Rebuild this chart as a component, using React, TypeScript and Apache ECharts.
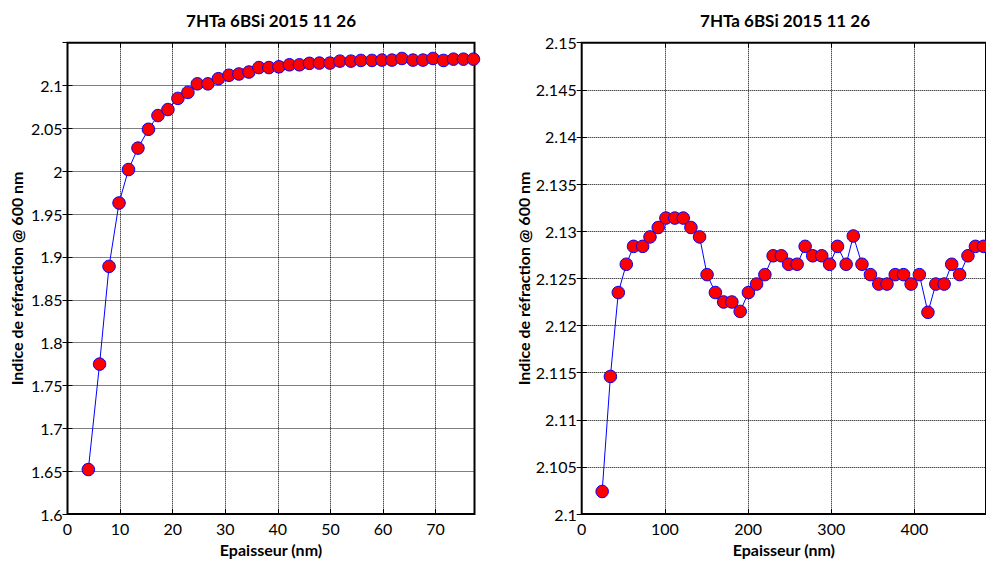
import React, { useEffect, useRef } from "react";
import * as echarts from "echarts";

const TITLE = "7HTa 6BSi 2015 11 26";
const X_NAME = "Epaisseur (nm)";
const Y_NAME = "Indice de réfraction @ 600 nm";

const leftX = [3.96, 6.1, 7.9, 9.8, 11.6, 13.4, 15.4, 17.2, 19.1, 21.0, 22.9, 24.7, 26.7, 28.7, 30.7, 32.6, 34.5, 36.4, 38.3, 40.2, 42.2, 44.1, 46.0, 47.9, 49.9, 51.8, 53.9, 55.8, 57.9, 59.8, 61.7, 63.6, 65.7, 67.6, 69.5, 71.5, 73.4, 75.3, 77.2];
const leftY = [1.652, 1.775, 1.889, 1.963, 2.002, 2.027, 2.049, 2.065, 2.072, 2.085, 2.092, 2.102, 2.102, 2.108, 2.112, 2.1135, 2.1158, 2.121, 2.121, 2.1219, 2.1242, 2.1242, 2.1259, 2.1262, 2.1262, 2.1285, 2.1285, 2.1293, 2.1293, 2.1297, 2.1297, 2.1316, 2.1297, 2.1297, 2.1316, 2.1293, 2.1308, 2.1308, 2.1308];

const rightX = [24.6, 34.5, 44.0, 53.6, 62.3, 73.3, 82.1, 92.0, 101.2, 111.9, 122.1, 131.3, 141.7, 150.7, 160.7, 170.6, 180.5, 190.5, 200.4, 210.2, 220.2, 230.1, 240.0, 248.8, 259.0, 268.6, 277.7, 288.5, 298.0, 307.5, 317.9, 326.5, 336.9, 347.1, 357.1, 367.0, 376.9, 386.9, 396.0, 405.9, 416.2, 425.7, 435.7, 444.8, 454.3, 464.3, 473.3, 483.0];
const rightY = [2.1024, 2.1146, 2.1235, 2.1265, 2.1284, 2.1284, 2.1294, 2.1304, 2.1314, 2.1314, 2.1314, 2.1304, 2.1294, 2.1254, 2.1235, 2.1225, 2.1225, 2.1215, 2.1235, 2.1244, 2.1254, 2.1274, 2.1274, 2.1265, 2.1265, 2.1284, 2.1274, 2.1274, 2.1265, 2.1284, 2.1265, 2.1295, 2.1265, 2.1254, 2.1244, 2.1244, 2.1254, 2.1254, 2.1244, 2.1254, 2.1214, 2.1244, 2.1244, 2.1265, 2.1254, 2.1274, 2.1284, 2.1284];

const leftXTicks = { min: 0, max: 77.4, interval: 10 };
const leftYTicks = { min: 1.6, max: 2.15, interval: 0.05 };
const rightXTicks = { min: 0, max: 486, interval: 100 };
const rightYTicks = { min: 2.1, max: 2.15, interval: 0.005 };

const FONT = "Lato, 'Open Sans', sans-serif";

function xAxes(grid: number, t: any, nameGap: number) {
  const common = {
    type: "value",
    gridIndex: grid,
    min: t.min,
    max: t.max,
    interval: t.interval,
    axisLine: { show: false },
    axisTick: { show: true, inside: true, length: 5, lineStyle: { color: "#000", width: 1 } },
  };
  return [
    {
      ...common,
      position: "bottom",
      name: X_NAME,
      nameLocation: "middle",
      nameGap,
      nameTextStyle: { fontFamily: FONT, fontWeight: "bold", fontSize: 16, color: "#000" },
      axisLabel: { show: true, fontFamily: FONT, fontSize: 16, color: "#000", margin: 6, showMaxLabel: false },
      splitLine: { show: true, lineStyle: { color: "#000", type: [1, 1], width: 1 } },
    },
    {
      ...common,
      position: "top",
      axisLabel: { show: false },
      splitLine: { show: false },
    },
  ];
}

function yAxes(grid: number, t: any, nameGap: number, showMax: boolean) {
  const common = {
    type: "value",
    gridIndex: grid,
    min: t.min,
    max: t.max,
    interval: t.interval,
    axisLine: { show: false },
    axisTick: { show: true, inside: true, length: 5, lineStyle: { color: "#000", width: 1 } },
  };
  return [
    {
      ...common,
      position: "left",
      name: Y_NAME,
      nameLocation: "middle",
      nameGap,
      nameTextStyle: { fontFamily: FONT, fontWeight: "bold", fontSize: 16, color: "#000" },
      axisLabel: { show: true, fontFamily: FONT, fontSize: 16, color: "#000", margin: 5, showMaxLabel: showMax },
      splitLine: { show: true, lineStyle: { color: "#000", type: [1, 1], width: 1 } },
    },
    {
      ...common,
      position: "right",
      axisLabel: { show: false },
      splitLine: { show: false },
    },
  ];
}

function makeSeries(xs: number[], ys: number[], axisIdx: number) {
  return {
    type: "line",
    xAxisIndex: axisIdx,
    yAxisIndex: axisIdx,
    data: xs.map((x, i) => [x, ys[i]]),
    symbol: "circle",
    symbolSize: 12.5,
    showSymbol: true,
    lineStyle: { color: "#0000ff", width: 1 },
    itemStyle: { color: "#ff0000", borderColor: "#0000ff", borderWidth: 1 },
    clip: true,
    z: 5,
  };
}

export default function App() {
  const ref = useRef<HTMLDivElement>(null);
  useEffect(() => {
    document.body.style.margin = "0";
    const chart = echarts.init(ref.current!, null, { renderer: "svg" });
    const gridL = { left: 67.5, top: 42.7, width: 407, height: 478, show: true, borderColor: "#000", borderWidth: 2, backgroundColor: "#fff" };
    const gridR = { left: 581.7, top: 42.7, width: 412, height: 478, show: true, borderColor: "#000", borderWidth: 2, backgroundColor: "#fff" };
    const titleStyle = { text: TITLE, fontFamily: FONT, fontWeight: "bold", fontSize: 17, fill: "#000", textAlign: "center", textVerticalAlign: "middle" };
    chart.setOption({
      animation: false,
      backgroundColor: "#fff",
      grid: [gridL, gridR],
      xAxis: [...xAxes(0, leftXTicks, 16), ...xAxes(1, rightXTicks, 16)],
      yAxis: [...yAxes(0, leftYTicks, 43, false), ...yAxes(1, rightYTicks, 50, true)],
      series: [makeSeries(leftX, leftY, 0), makeSeries(rightX, rightY, 2)],
      graphic: [
        { type: "text", x: 271, y: 20, style: { ...titleStyle } },
        { type: "text", x: 785, y: 20, style: { ...titleStyle } },
      ],
    });
    return () => chart.dispose();
  }, []);
  return <div ref={ref} style={{ width: 986, height: 562 }} />;
}
